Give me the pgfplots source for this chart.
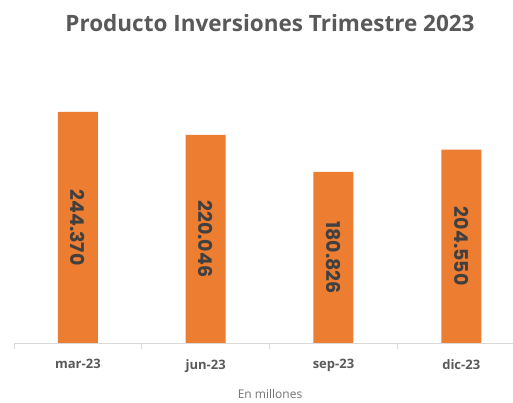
\documentclass[border=0pt]{standalone}
\usepackage{pgfplots}
\pgfplotsset{compat=1.18}
\usepackage{fontspec}
\setmainfont{Open Sans}
\newfontfamily\pop{Poppins}
\definecolor{barorange}{HTML}{ED7D31}
\definecolor{txtgray}{HTML}{595959}
\definecolor{lblgray}{HTML}{404040}
\definecolor{axgray}{HTML}{D9D9D9}
\begin{document}
\begin{tikzpicture}[x=1pt,y=1pt]
\path[use as bounding box] (0,0) rectangle (513,403);
\begin{axis}[
  at={(14pt,60pt)}, anchor=south west,
  scale only axis, width=499pt, height=245.9pt,
  xmin=-0.5, xmax=3.405, ymin=0, ymax=260,
  axis y line=none,
  axis x line*=bottom,
  x axis line style={draw=axgray, line width=0.8pt, -},
  xtick={0,1,2,3},
  xticklabels={mar-23,jun-23,sep-23,dic-23},
  major tick length=0pt,
  xticklabel style={font=\fontsize{13}{15}\selectfont\bfseries, text=txtgray, yshift=-13pt},
  extra x ticks={-0.5,0.5,1.5,2.5},
  extra x tick labels={},
  extra x tick style={major tick length=6pt, tick style={draw=axgray, line width=0.8pt}, tick align=outside},
  clip=false,
]
\addplot[ybar, bar width=40pt, fill=barorange, draw=none] coordinates {(0,244.370) (1,220.046) (2,180.826) (3,204.550)};
\addplot[draw=none, mark=none, nodes near coords, point meta=explicit symbolic,
  nodes near coords style={anchor=center, rotate=-90, font=\pop\fontsize{19}{21}\selectfont\bfseries, text=lblgray}]
  coordinates {(0,122.185)[244.370] (1,110.023)[220.046] (2,90.413)[180.826] (3,102.275)[204.550]};
\end{axis}
\node[font=\fontsize{22.5}{26}\selectfont\bfseries, text=txtgray] at (270,380) {Producto Inversiones Trimestre 2023};
\node[font=\fontsize{12}{14}\selectfont, text=txtgray!85] at (270,9) {En millones};
\end{tikzpicture}
\end{document}
